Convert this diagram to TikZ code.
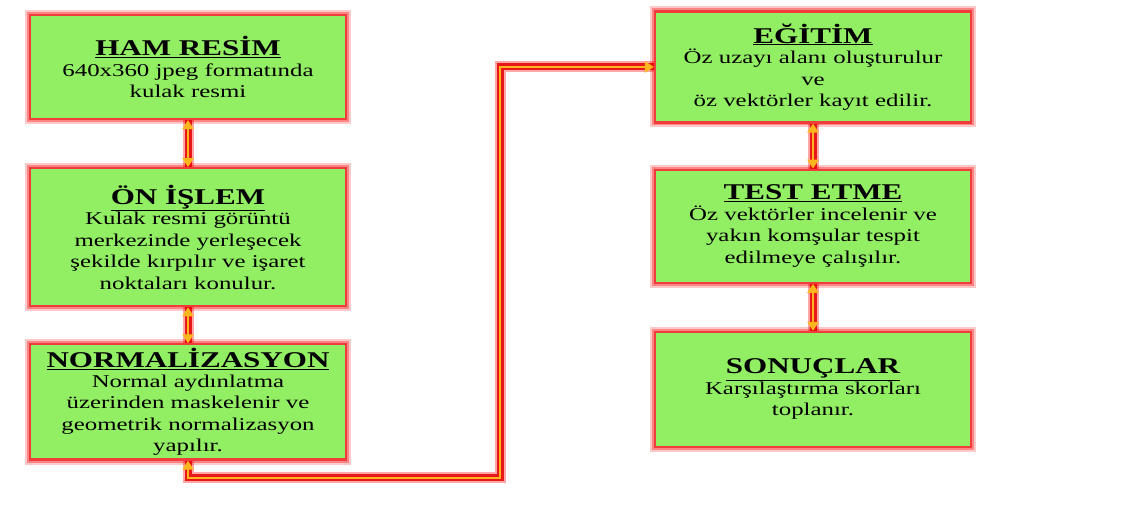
\documentclass[tikz,border=0pt]{standalone}
\usepackage{fontspec}
\setmainfont[FakeStretch=1.38]{Liberation Serif}
\usetikzlibrary{positioning,arrows.meta}

\definecolor{boxgreen}{RGB}{146,238,98}
\definecolor{boxred}{RGB}{240,60,60}
\definecolor{linkorange}{RGB}{255,182,30}
\newcommand{\baslik}[1]{{\fontsize{22.5}{25}\selectfont\bfseries\underline{#1}}}

\begin{document}
\begin{tikzpicture}[
    x=1pt, y=1pt,
    font=\fontsize{18}{21.5}\selectfont,
    box/.style={draw=boxred, line width=2.2pt, fill=boxgreen, minimum width=316pt,
      align=center, inner sep=4pt,
      preaction={draw=red!60, draw opacity=.35, line width=10pt},
      preaction={draw=red!75, draw opacity=.5, line width=6pt}},
    link/.style={draw=linkorange, line width=2.6pt,
      {Triangle[length=9pt,width=11pt]}-{Triangle[length=9pt,width=11pt]},
      preaction={draw=red, draw opacity=.35, line width=11pt, arrows=-},
      preaction={draw=red!90!black, draw opacity=.85, line width=7pt, arrows=-}}
  ]

\useasboundingbox[fill=white] (0,0) rectangle (1126,505);

% --- left column ---
    \node[box, minimum height=104pt] (ham) at (188,438)
      {\baslik{HAM RESİM}\\[-1pt] 640x360 jpeg formatında\\ kulak resmi};
    \node[box, minimum height=138pt, below=47pt of ham] (onislem)
      {\baslik{ÖN İŞLEM}\\[-1pt] Kulak resmi görüntü\\ merkezinde yerleşecek\\
       şekilde kırpılır ve işaret\\ noktaları konulur.};
    \node[box, minimum height=112pt, below=36pt of onislem] (norm)
      {\baslik{NORMALİZASYON}\\[-2pt] Normal aydınlatma\\ üzerinden maskelenir ve\\
       geometrik normalizasyon\\ yapılır.};

% --- right column ---
    \node[box, minimum height=111pt] (egitim) at (813,438)
      {\baslik{EĞİTİM}\\[-1pt] Öz uzayı alanı oluşturulur\\ ve\\ öz vektörler kayıt edilir.};
    \node[box, minimum height=113pt, below=45pt of egitim] (test)
      {\baslik{TEST ETME}\\[-1pt] Öz vektörler incelenir ve\\ yakın komşular tespit\\
       edilmeye çalışılır.};
    \node[box, minimum height=115pt, below=47pt of test] (sonuc)
      {\baslik{SONUÇLAR}\\[-1pt] Karşılaştırma skorları\\ toplanır.};

% --- connectors ---
    \coordinate (bend) at (500,27);
    \draw[link] (ham) -- (onislem);
    \draw[link] (onislem) -- (norm);
    \draw[link] (norm.south) |- (bend) |- (egitim.west);
    \draw[link] (egitim) -- (test);
    \draw[link] (test) -- (sonuc);

  \end{tikzpicture}
\end{document}
